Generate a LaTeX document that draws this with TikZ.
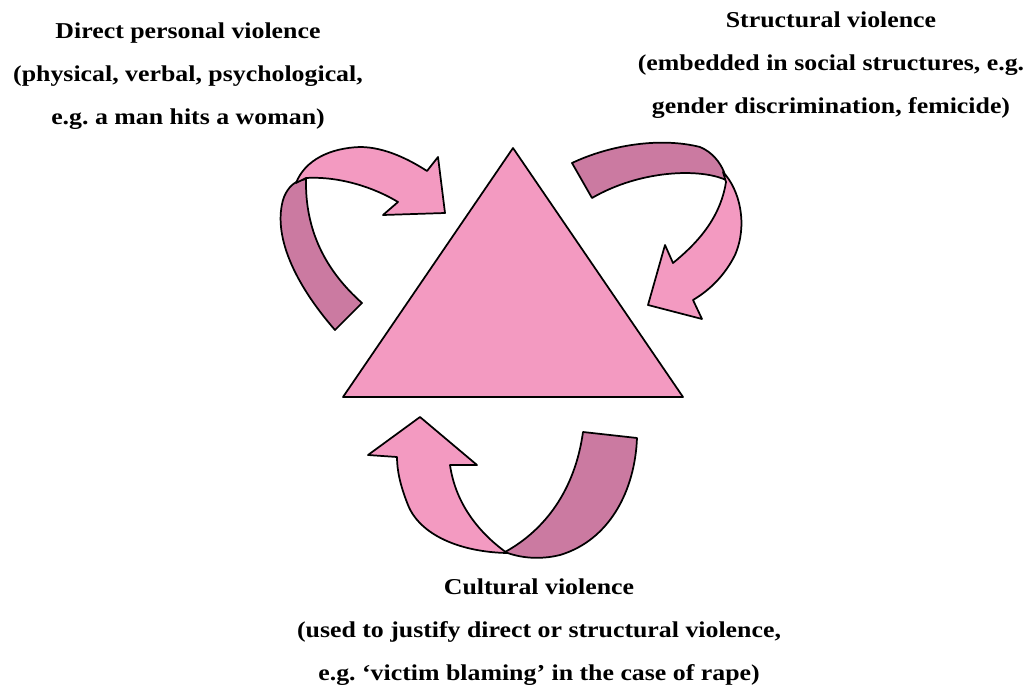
\documentclass[tikz,border=0pt]{standalone}
\usepackage{fontspec}
\setmainfont[FakeStretch=1.14]{Liberation Serif}
\definecolor{pinklt}{RGB}{243,154,193}
\definecolor{pinkdk}{RGB}{203,122,161}

\begin{document}
\begin{tikzpicture}[x=0.75pt,y=-0.75pt,line join=round,
   lt/.style={draw=black,line width=1.3pt,fill=pinklt},
   dk/.style={draw=black,line width=1.3pt,fill=pinkdk},
   txt/.style={font=\fontsize{17}{32.25}\selectfont\bfseries,align=center,inner sep=0pt,anchor=north}]
  \useasboundingbox (0,0) rectangle (1031,692);
  % triangle
  \draw[lt] (513,148) -- (683,397) -- (343,397) -- cycle;
  % top left arrow
  \draw[dk] (335,330) .. controls (300,290) and (272,240) .. (283,200)
     .. controls (286,190) and (292,184) .. (298,181) -- (306,179)
     .. controls (305,230) and (325,270) .. (362,303) -- cycle;
  \draw[lt] (296,183) .. controls (305,160) and (330,148) .. (360,147)
     .. controls (385,147) and (410,160) .. (427,171) -- (438,157) -- (445,213)
     -- (383,215) -- (398,202) .. controls (375,188) and (340,176) .. (306,178) -- cycle;
  % top right arrow
  \draw[dk] (572,163) .. controls (610,145) and (660,137) .. (700,147)
     .. controls (712,152) and (720,162) .. (724,172) -- (726,180)
     .. controls (700,168) and (640,170) .. (592,198) -- cycle;
  \draw[lt] (723,172) .. controls (740,190) and (748,225) .. (735,255)
     .. controls (725,275) and (710,290) .. (693,300) -- (702,319) -- (648,305)
     -- (665,245) -- (673,263) .. controls (695,245) and (720,220) .. (726,182) -- cycle;
  % bottom arrow
  \draw[lt] (420,417) -- (477,465) -- (450,465) .. controls (455,500) and (475,530) .. (507,553)
     .. controls (460,552) and (420,535) .. (408,505) .. controls (400,485) and (397,470) .. (397,457)
     -- (368,455) -- cycle;
  \draw[dk] (583,432) -- (637,438) .. controls (635,490) and (610,540) .. (560,555)
     .. controls (540,560) and (520,558) .. (505,552)
     .. controls (545,530) and (575,490) .. (583,432) -- cycle;
  % labels
  \node[txt] (dir) at (188,23) {Direct personal violence\\(physical, verbal, psychological,\\e.g.\ a man hits a woman)};
  \node[txt] (str) at (831,12) {Structural violence\\(embedded in social structures, e.g.\\gender discrimination, femicide)};
  \node[txt] (cul) at (539,578) {Cultural violence\\(used to justify direct or structural violence,\\e.g.\ `victim blaming' in the case of rape)};
\end{tikzpicture}
\end{document}
